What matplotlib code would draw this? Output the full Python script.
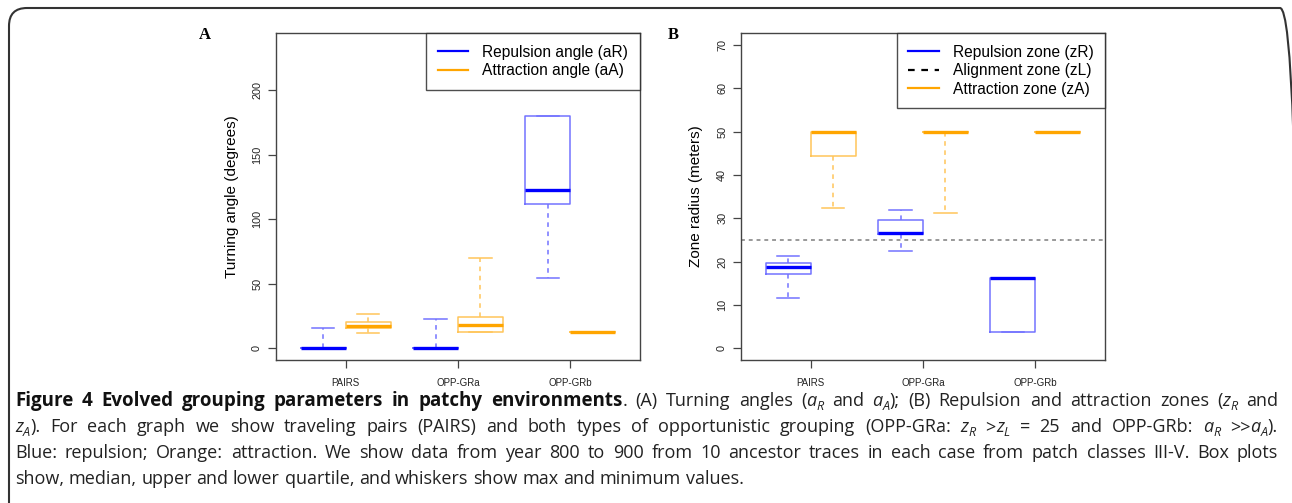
import matplotlib
matplotlib.use("Agg")
import matplotlib.pyplot as plt
from matplotlib.patches import FancyBboxPatch
from matplotlib.lines import Line2D

# ---------------- data ----------------
groups = ["PAIRS", "OPP-GRa", "OPP-GRb"]

# Panel A: turning angles (degrees)  [whislo, q1, med, q3, whishi]
aR_stats = [[0, 0, 0, 0, 16.0],
            [0, 0, 0, 0, 22.7],
            [54.2, 111.9, 122.5, 180.0, 180.0]]
aA_stats = [[11.6, 15.5, 17.5, 20.1, 26.3],
            [12.9, 12.9, 18.0, 24.0, 69.8],
            [12.7, 12.7, 12.7, 12.7, 12.7]]

# Panel B: zone radius (meters)
zR_stats = [[11.5, 17.2, 18.7, 19.8, 21.3],
            [22.5, 26.4, 26.6, 29.7, 31.9],
            [3.7, 3.7, 16.2, 16.2, 16.2]]
zA_stats = [[32.3, 44.5, 50.0, 50.0, 50.0],
            [31.2, 50.0, 50.0, 50.0, 50.0],
            [50.0, 50.0, 50.0, 50.0, 50.0]]
zL_value = 25

yticks_A = [0, 50, 100, 150, 200]
yticks_B = [0, 10, 20, 30, 40, 50, 60, 70]

legend_A = ["Repulsion angle (aR)", "Attraction angle (aA)"]
legend_B = ["Repulsion zone (zR)", "Alignment zone (zL)", "Attraction zone (zA)"]

# ---------------- style ----------------
BLUE = "#0000FF"
BLUE_L = "#7373FF"
ORANGE = "#FFA500"
ORANGE_L = "#FFC55A"
SPINE = "#444444"

W, H = 1292, 503
fig = plt.figure(figsize=(W / 100, H / 100), dpi=100)
fig.patch.set_facecolor("white")

plt.rcParams["font.family"] = ["Liberation Sans", "DejaVu Sans"]


def to_stats(rows):
    out = []
    for lo, q1, med, q3, hi in rows:
        out.append(dict(whislo=lo, q1=q1, med=med, q3=q3, whishi=hi, fliers=[]))
    return out


def draw_box(ax, rows, offset, dark, light):
    pos = [i + 1 + offset for i in range(len(rows))]
    ax.bxp(to_stats(rows), positions=pos, widths=0.4, capwidths=0.2,
           showfliers=False, manage_ticks=False,
           boxprops=dict(color=light, linewidth=1.1),
           whiskerprops=dict(color=light, linewidth=1.1, linestyle=(0, (3, 3))),
           capprops=dict(color=light, linewidth=1.1),
           medianprops=dict(color=dark, linewidth=2.4, solid_capstyle="butt"))


def style_axes(ax, yticks, ylim):
    ax.set_xlim(0.38, 3.62)
    ax.set_ylim(*ylim)
    ax.set_xticks([1, 2, 3])
    ax.set_xticklabels(groups)
    ax.set_yticks(yticks)
    ax.tick_params(axis="both", direction="out", length=6, width=0.9,
                   color=SPINE, labelcolor="#222222")
    ax.tick_params(axis="x", pad=7, labelsize=7)
    ax.tick_params(axis="y", labelrotation=90, pad=4, labelsize=7.8)
    for lab in ax.get_yticklabels():
        lab.set_va("center")
    for sp in ax.spines.values():
        sp.set_color(SPINE)
        sp.set_linewidth(1.0)


axA = fig.add_axes([276 / W, 1 - 360 / H, 364 / W, 327 / H])
axB = fig.add_axes([741 / W, 1 - 360 / H, 364 / W, 327 / H])

draw_box(axA, aR_stats, -0.2, BLUE, BLUE_L)
draw_box(axA, aA_stats, 0.2, ORANGE, ORANGE_L)
style_axes(axA, yticks_A, (-9.1, 244.4))
axA.set_ylabel("Turning angle (degrees)", fontsize=11, va="center")
axA.yaxis.set_label_coords(-0.121, 0.5)

draw_box(axB, zR_stats, -0.2, BLUE, BLUE_L)
draw_box(axB, zA_stats, 0.2, ORANGE, ORANGE_L)
axB.axhline(zL_value, color="#999999", linewidth=1.4, linestyle=(0, (2, 2)), zorder=1)
style_axes(axB, yticks_B, (-2.7, 72.8))
axB.set_ylabel("Zone radius (meters)", fontsize=11, va="center")
axB.yaxis.set_label_coords(-0.124, 0.5)

leg_kw = dict(loc="upper right", borderaxespad=0, fontsize=11.2,
              fancybox=False, edgecolor="#222222", handlelength=1.95,
              handletextpad=0.9, borderpad=0.75, labelspacing=0.22)

hA = [Line2D([], [], color=BLUE, lw=1.6), Line2D([], [], color=ORANGE, lw=1.6)]
legA = axA.legend(hA, legend_A, **leg_kw)
legA.get_frame().set_linewidth(1.0)

hB = [Line2D([], [], color=BLUE, lw=1.6),
      Line2D([], [], color="black", lw=1.6, linestyle=(0, (3, 3))),
      Line2D([], [], color=ORANGE, lw=1.6)]
legB = axB.legend(hB, legend_B, **leg_kw)
legB.get_frame().set_linewidth(1.0)

# panel letters
fig.text(199 / W, 1 - 39 / H, "A", fontsize=12, fontweight="bold",
         family=["Liberation Serif", "DejaVu Serif"], va="baseline")
fig.text(668 / W, 1 - 39 / H, "B", fontsize=12, fontweight="bold",
         family=["Liberation Serif", "DejaVu Serif"], va="baseline")

# outer frame (pixel coordinates)
frame = FancyBboxPatch((9, -30), 1298 - 9, (H - 8) + 30,
                       boxstyle="round,pad=0,rounding_size=18",
                       transform=None, fill=False,
                       edgecolor="#333333", linewidth=1.5)
fig.add_artist(frame)

# ---------------- caption ----------------
CAP_FONT = ["Open Sans", "DejaVu Sans"]
CAP_SIZE = 13.0
BOLD_SIZE = 13.5
renderer = fig.canvas.get_renderer()

lines = [
    ([("Figure 4 Evolved grouping parameters in patchy environments", "b"),
      (". (A) Turning angles (", "n"), ("a", "i"), ("R", "s"), (" and ", "n"),
      ("a", "i"), ("A", "s"), ("); (B) Repulsion and attraction zones (", "n"),
      ("z", "i"), ("R", "s"), (" and", "n")], True),
    ([("z", "i"), ("A", "s"),
      ("). For each graph we show traveling pairs (PAIRS) and both types of opportunistic grouping (OPP-GRa: ", "n"),
      ("z", "i"), ("R", "s"), (" >", "n"), ("z", "i"), ("L", "s"),
      (" = 25 and OPP-GRb: ", "n"), ("a", "i"), ("R", "s"), (" >>", "n"),
      ("a", "i"), ("A", "s"), (").", "n")], True),
    ([("Blue: repulsion; Orange: attraction. We show data from year 800 to 900 from 10 ancestor traces in each case from patch classes III-V. Box plots", "n")], True),
    ([("show, median, upper and lower quartile, and whiskers show max and minimum values.", "n")], False),
]


def make_text(x, y, s, st):
    kw = dict(family=CAP_FONT, fontsize=CAP_SIZE, color="#222222", va="baseline",
              ha="left", transform=None)
    if st == "b":
        kw["fontweight"] = "bold"
        kw["fontsize"] = BOLD_SIZE
        kw["color"] = "#111111"
    if st in ("i", "s"):
        kw["style"] = "italic"
    if st == "s":
        kw["fontsize"] = CAP_SIZE * 0.7
        y = y - CAP_SIZE * 0.3
    return fig.text(x, y, s, **kw)


def width_of(s, st):
    t = make_text(0, 0, s, st)
    w = t.get_window_extent(renderer).width
    t.remove()
    return w


space_n = width_of("a a", "n") - width_of("aa", "n")
space_b = width_of("a a", "b") - width_of("aa", "b")

x0, x1 = 15, 1278
baselines = [406, 432, 458, 484]
for (segs, justify), yb in zip(lines, baselines):
    y = H - yb
    tokens = []
    for s, st in segs:
        parts = s.split(" ")
        for k, p in enumerate(parts):
            tokens.append([p, st, k > 0])
    natural = 0.0
    ngaps = 0
    for p, st, gap in tokens:
        if gap:
            natural += space_b if st == "b" else space_n
            ngaps += 1
        if p:
            natural += width_of(p, st)
    extra = (x1 - x0 - natural) / ngaps if (justify and ngaps) else 0.0
    extra = max(extra, -0.5 * space_n)
    x = x0
    for p, st, gap in tokens:
        if gap:
            x += (space_b if st == "b" else space_n) + extra
        if p:
            t = make_text(x, y, p, st)
            x += t.get_window_extent(renderer).width

fig.savefig("out.png", dpi=100, facecolor="white")
